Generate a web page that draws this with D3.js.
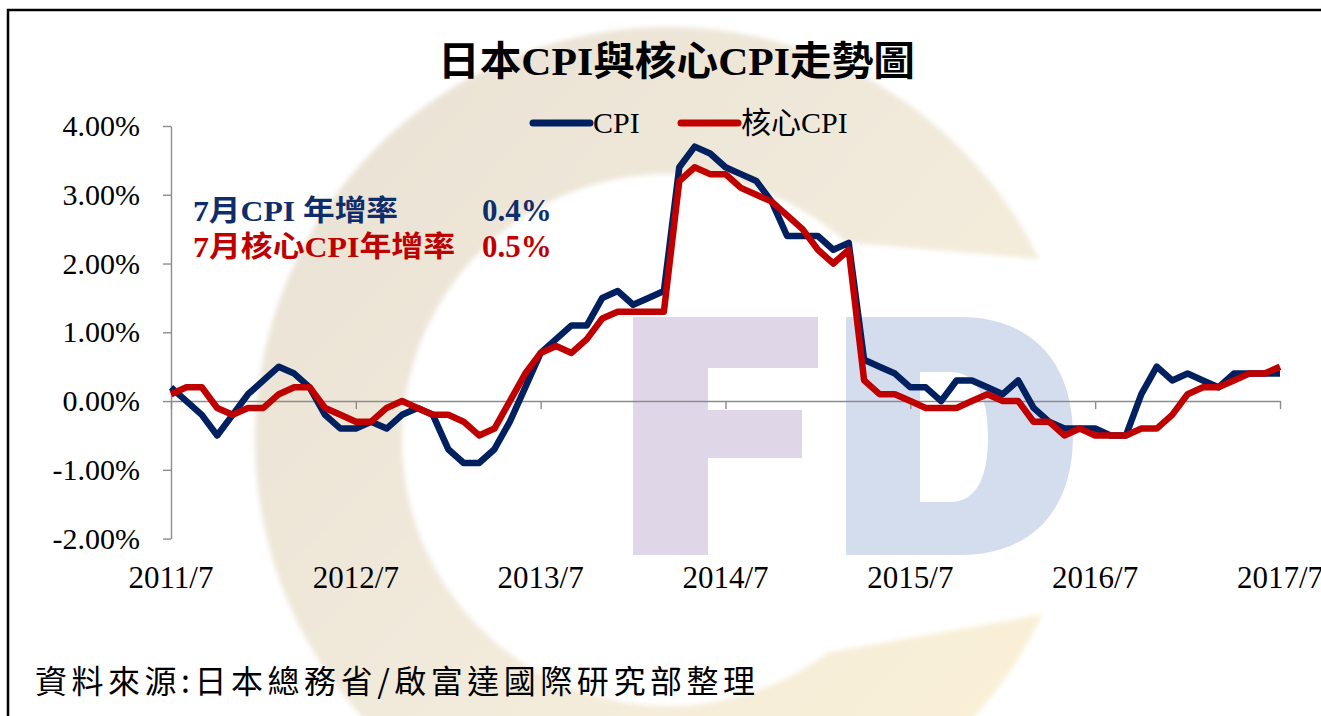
<!DOCTYPE html>
<html>
<head>
<meta charset="utf-8">
<script src="https://cdnjs.cloudflare.com/ajax/libs/d3/7.8.5/d3.min.js"></script>
<style>
  body { margin: 0; background: #fff; }
  svg { display: block; }
</style>
</head>
<body>
<svg id="chart"></svg>
<script>
const width = 1321, height = 716;

// year-on-year %, 2011/7 .. 2017/7 monthly
const cpi = [
  0.2, 0.0, -0.2, -0.5, -0.2, 0.1, 0.3, 0.5, 0.4, 0.2, -0.2, -0.4,
  -0.4, -0.3, -0.4, -0.2, -0.1, -0.2, -0.7, -0.9, -0.9, -0.7, -0.3, 0.2,
  0.7, 0.9, 1.1, 1.1, 1.5, 1.6, 1.4, 1.5, 1.6, 3.4, 3.7, 3.6,
  3.4, 3.3, 3.2, 2.9, 2.4, 2.4, 2.4, 2.2, 2.3, 0.6, 0.5, 0.4,
  0.2, 0.2, 0.0, 0.3, 0.3, 0.2, 0.1, 0.3, -0.1, -0.3, -0.4, -0.4,
  -0.4, -0.5, -0.5, 0.1, 0.5, 0.3, 0.4, 0.3, 0.2, 0.4, 0.4, 0.4, 0.4
];
const coreCpi = [
  0.1, 0.2, 0.2, -0.1, -0.2, -0.1, -0.1, 0.1, 0.2, 0.2, -0.1, -0.2,
  -0.3, -0.3, -0.1, 0.0, -0.1, -0.2, -0.2, -0.3, -0.5, -0.4, 0.0, 0.4,
  0.7, 0.8, 0.7, 0.9, 1.2, 1.3, 1.3, 1.3, 1.3, 3.2, 3.4, 3.3,
  3.3, 3.1, 3.0, 2.9, 2.7, 2.5, 2.2, 2.0, 2.2, 0.3, 0.1, 0.1,
  0.0, -0.1, -0.1, -0.1, 0.0, 0.1, 0.0, 0.0, -0.3, -0.3, -0.5, -0.4,
  -0.5, -0.5, -0.5, -0.4, -0.4, -0.2, 0.1, 0.2, 0.2, 0.3, 0.4, 0.4, 0.5
];
const xTicks = ["2011/7", "2012/7", "2013/7", "2014/7", "2015/7", "2016/7", "2017/7"];
const yTicks = [-2, -1, 0, 1, 2, 3, 4];
const seriesNames = ["CPI", "核心CPI"];
const seriesColors = ["#002060", "#c00000"];

const fmtMonth = d3.timeFormat("%Y/%-m");
const months = d3.timeMonth.range(new Date(2011, 6, 1), new Date(2017, 7, 1)).map(fmtMonth);

const serif = "'Liberation Serif', 'Times New Roman', 'Noto Sans CJK TC', serif";

const svg = d3.select("#chart")
  .attr("width", width)
  .attr("height", height);

svg.append("rect")
  .attr("width", width).attr("height", height)
  .attr("fill", "#fff");

// ---- watermark (C ring + FD) ----
const defs = svg.append("defs");
const grad = defs.append("linearGradient")
  .attr("id", "ringGrad")
  .attr("x1", "0").attr("y1", "0").attr("x2", "1").attr("y2", "1");
grad.append("stop").attr("offset", "0").attr("stop-color", "#e8e1d4");
grad.append("stop").attr("offset", "0.5").attr("stop-color", "#f1eadb");
grad.append("stop").attr("offset", "1").attr("stop-color", "#fcf2d6");
defs.append("filter").attr("id", "soft")
  .append("feGaussianBlur").attr("stdDeviation", 2.5);

const cx = 668, cy = 440, R = 413, r = 266;
const rad = a => a * Math.PI / 180;
const ring = d3.path();
ring.moveTo(cx + R * Math.cos(rad(-26)), cy + R * Math.sin(rad(-26)));
ring.arc(cx, cy, R, rad(-26), rad(25), true);
ring.lineTo(cx + r * Math.cos(rad(53)), cy + r * Math.sin(rad(53)));
ring.arc(cx, cy, r, rad(53), rad(-48), false);
ring.closePath();
svg.append("path")
  .attr("d", ring.toString())
  .attr("fill", "url(#ringGrad)")
  .attr("filter", "url(#soft)");

// F
svg.append("path")
  .attr("d", "M633,317 H818 V368 H708 V410 H802 V458 H708 V555 H633 Z")
  .attr("fill", "#dfd6e7");
// D
svg.append("path")
  .attr("d", "M846,317 H960 C1030,317 1073,360 1073,436 C1073,512 1030,555 960,555 H846 Z " +
             "M920,372 V502 H950 C975,502 988,480 988,437 C988,394 975,372 950,372 Z")
  .attr("fill", "#d4ddee")
  .attr("fill-rule", "evenodd");

// ---- border ----
svg.append("rect")
  .attr("x", 8).attr("y", 10)
  .attr("width", 1400).attr("height", 800)
  .attr("fill", "none")
  .attr("stroke", "#000")
  .attr("stroke-width", 2.5);

// ---- scales ----
const x = d3.scalePoint().domain(months).range([171, 1280]);
const y = d3.scaleLinear().domain([-2, 4]).range([538.6, 126]);

// y axis
const yAxis = svg.append("g")
  .attr("transform", "translate(171,0)")
  .call(d3.axisLeft(y).tickValues(yTicks).tickSize(8).tickSizeOuter(0).tickPadding(23)
    .tickFormat(d => d.toFixed(2) + "%"));
yAxis.selectAll("path, line").attr("stroke", "#8c8c8c").attr("stroke-width", 1.4);
yAxis.selectAll("text")
  .attr("fill", "#000")
  .style("font-family", serif)
  .style("font-size", "30px");

// x axis on zero line
const xAxis = svg.append("g")
  .attr("transform", `translate(0,${y(0)})`)
  .call(d3.axisBottom(x).tickValues(xTicks).tickSize(8).tickSizeOuter(0).tickFormat(""));
xAxis.selectAll("path, line").attr("stroke", "#8c8c8c").attr("stroke-width", 1.4);

// x labels at bottom
svg.append("g").selectAll("text")
  .data(xTicks)
  .join("text")
  .attr("x", d => x(d))
  .attr("y", 588)
  .attr("text-anchor", "middle")
  .style("font-family", serif)
  .style("font-size", "31px")
  .text(d => d);

// ---- lines ----
const line = d3.line()
  .x((d, i) => x(months[i]))
  .y(d => y(d));

[cpi, coreCpi].forEach((values, k) => {
  svg.append("path")
    .datum(values)
    .attr("fill", "none")
    .attr("stroke", seriesColors[k])
    .attr("stroke-width", 6.5)
    .attr("stroke-linejoin", "round")
    .attr("d", line);
});

// ---- title ----
svg.append("text")
  .attr("x", 438)
  .attr("y", 75)
  .attr("textLength", 477)
  .attr("lengthAdjust", "spacingAndGlyphs")
  .style("font-family", serif)
  .style("font-size", "40px")
  .style("font-weight", "bold")
  .text("日本CPI與核心CPI走勢圖");

// ---- legend ----
const legendX = [533, 681];
seriesNames.forEach((name, k) => {
  svg.append("line")
    .attr("x1", legendX[k]).attr("x2", legendX[k] + 57)
    .attr("y1", 123).attr("y2", 123)
    .attr("stroke", seriesColors[k])
    .attr("stroke-width", 7)
    .attr("stroke-linecap", "round");
  svg.append("text")
    .attr("x", legendX[k] + 60)
    .attr("y", 133)
    .style("font-family", serif)
    .style("font-size", "30px")
    .text(name);
});

// ---- annotation ----
const notes = [
  { label: "7月CPI 年增率", value: "0.4%", color: "#0f2d6b", yPos: 221, len: 205 },
  { label: "7月核心CPI年增率", value: "0.5%", color: "#c00000", yPos: 257, len: 262 }
];
notes.forEach(n => {
  svg.append("text")
    .attr("x", 193).attr("y", n.yPos)
    .attr("textLength", n.len)
    .attr("lengthAdjust", "spacingAndGlyphs")
    .attr("fill", n.color)
    .style("font-family", serif)
    .style("font-size", "29px")
    .style("font-weight", "bold")
    .text(n.label);
  svg.append("text")
    .attr("x", 482).attr("y", n.yPos)
    .attr("fill", n.color)
    .style("font-family", serif)
    .style("font-size", "31px")
    .style("font-weight", "bold")
    .text(n.value);
});

// ---- source ----
svg.append("text")
  .attr("x", 35)
  .attr("y", 693)
  .attr("textLength", 720)
  .attr("lengthAdjust", "spacing")
  .style("font-family", "'Noto Sans CJK TC', sans-serif")
  .style("font-size", "32px")
  .text("資料來源:日本總務省/啟富達國際研究部整理");
</script>
</body>
</html>
